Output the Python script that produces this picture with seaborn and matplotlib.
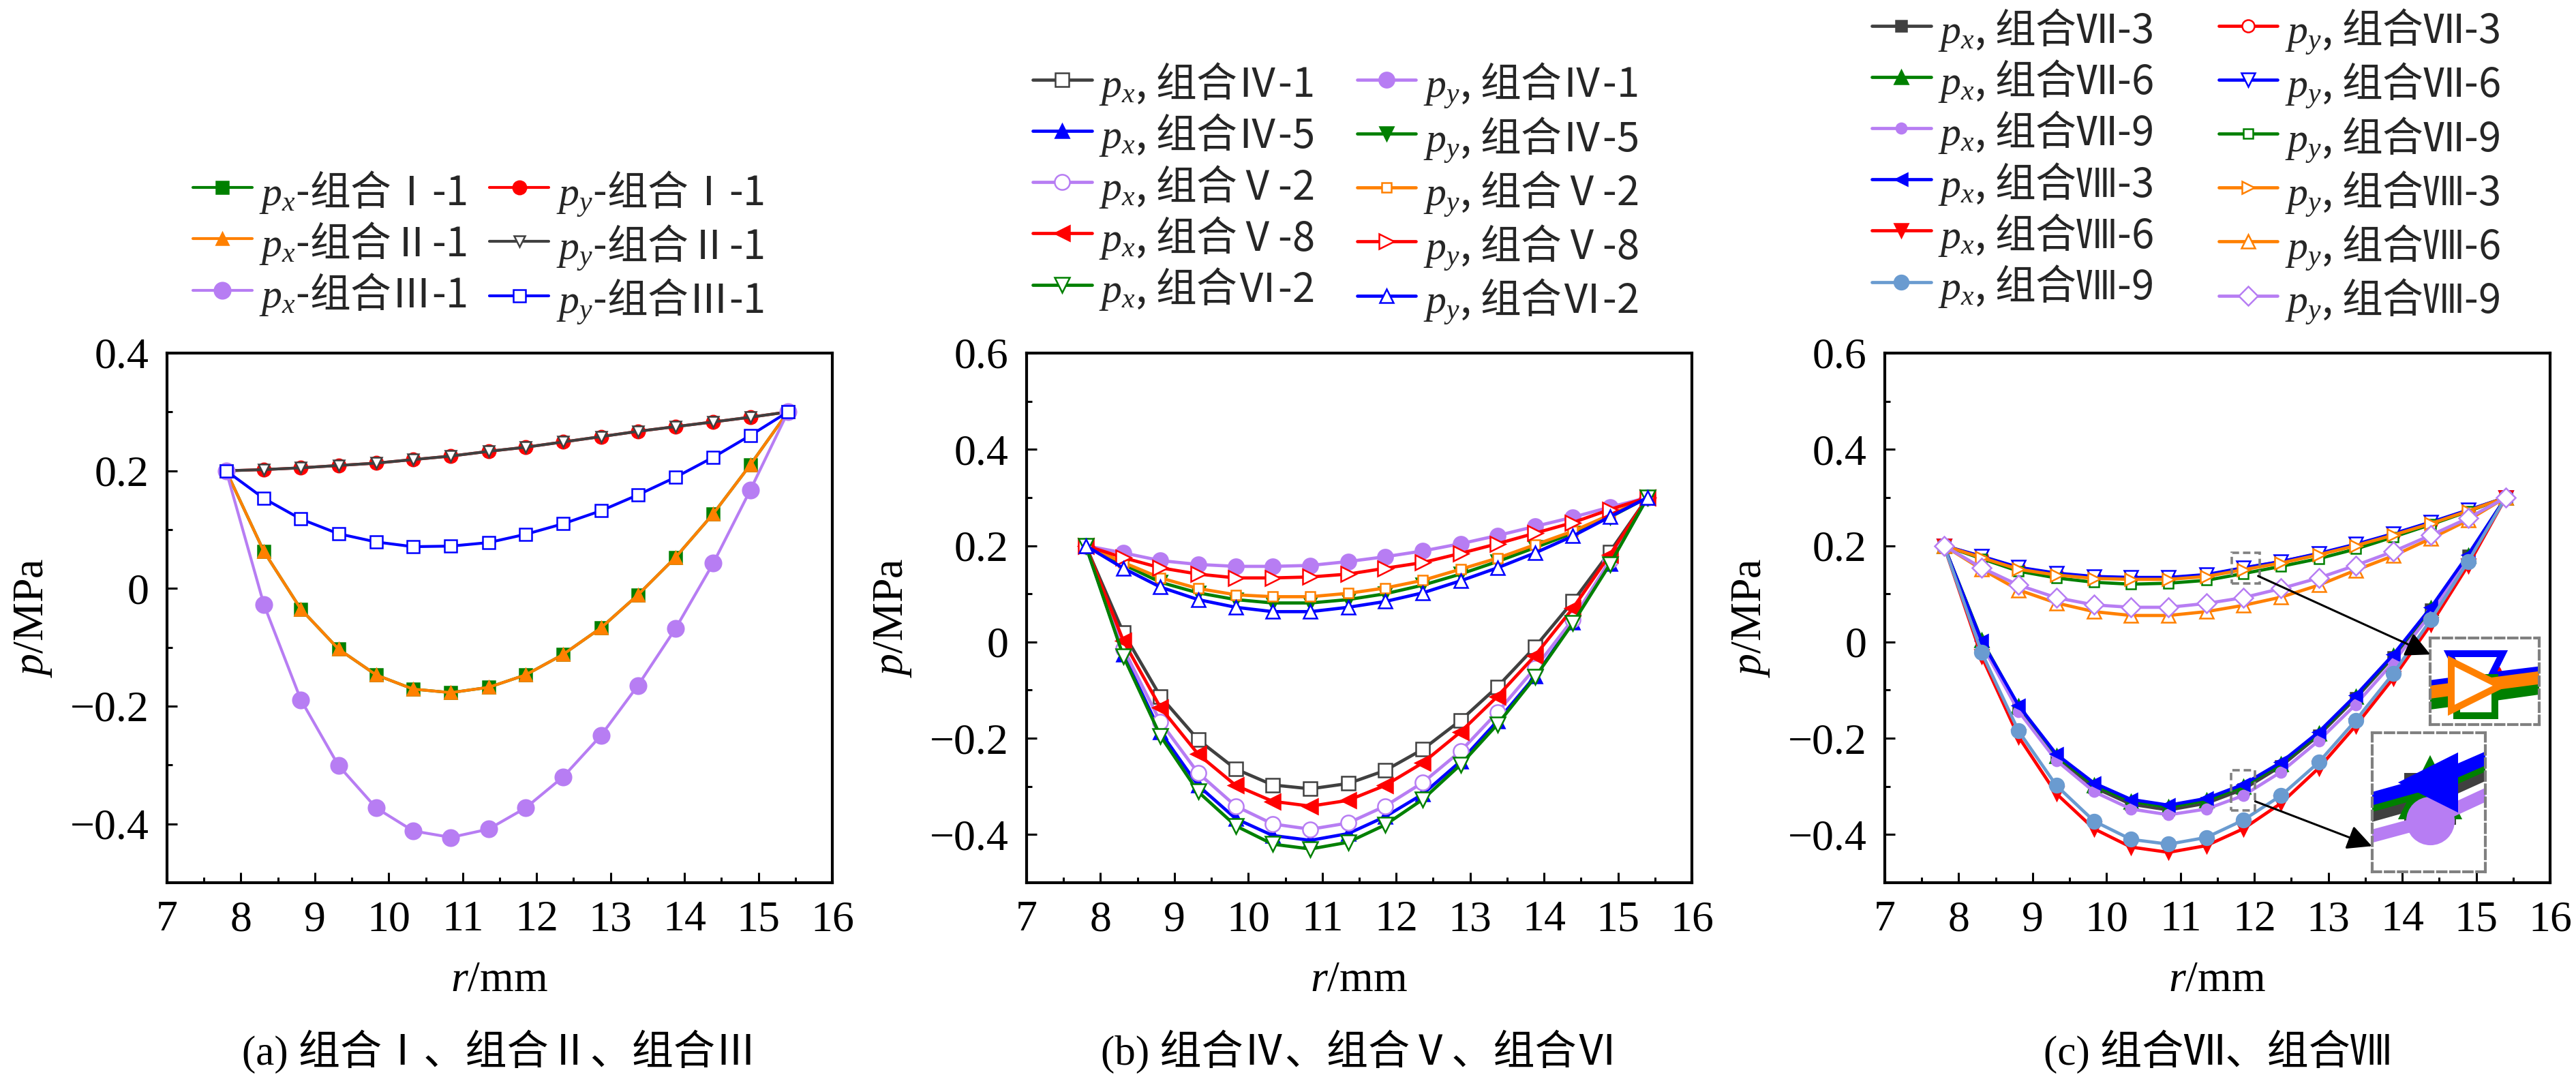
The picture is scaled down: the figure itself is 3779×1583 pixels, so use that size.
import matplotlib
matplotlib.use('Agg')
import matplotlib.pyplot as plt
import seaborn as sns
from matplotlib.patches import Rectangle
from matplotlib.font_manager import FontProperties

# ---------------- data ----------------
r = [7.8, 8.31, 8.81, 9.32, 9.83, 10.33, 10.84, 11.35, 11.85, 12.36, 12.87, 13.37, 13.88, 14.39, 14.89, 15.4]

# panel (a)
a_px_I1 = [0.200, 0.063, -0.035, -0.103, -0.147, -0.171, -0.177, -0.168, -0.147, -0.112, -0.067, -0.011, 0.053, 0.127, 0.210, 0.300]
a_py_I1 = [0.200, 0.202, 0.205, 0.209, 0.213, 0.219, 0.225, 0.233, 0.240, 0.249, 0.258, 0.267, 0.275, 0.283, 0.291, 0.300]
a_px_II1 = [0.200, 0.063, -0.035, -0.103, -0.147, -0.171, -0.177, -0.168, -0.147, -0.112, -0.067, -0.011, 0.053, 0.127, 0.210, 0.300]
a_py_II1 = [0.200, 0.202, 0.205, 0.209, 0.213, 0.219, 0.225, 0.233, 0.240, 0.249, 0.258, 0.267, 0.275, 0.283, 0.291, 0.300]
a_px_III1 = [0.200, -0.027, -0.189, -0.301, -0.373, -0.412, -0.423, -0.409, -0.373, -0.320, -0.250, -0.165, -0.068, 0.043, 0.167, 0.300]
a_py_III1 = [0.200, 0.153, 0.118, 0.093, 0.079, 0.071, 0.072, 0.078, 0.092, 0.110, 0.132, 0.159, 0.189, 0.223, 0.260, 0.300]

# panel (b)
b_px_IV1 = [0.200, 0.019, -0.113, -0.203, -0.264, -0.297, -0.305, -0.294, -0.267, -0.223, -0.163, -0.093, -0.010, 0.084, 0.187, 0.300]
b_py_IV1 = [0.200, 0.185, 0.169, 0.161, 0.157, 0.157, 0.159, 0.167, 0.177, 0.189, 0.204, 0.221, 0.240, 0.259, 0.280, 0.300]
b_px_IV5 = [0.200, -0.026, -0.187, -0.298, -0.367, -0.402, -0.412, -0.398, -0.363, -0.316, -0.248, -0.164, -0.071, 0.041, 0.163, 0.300]
b_py_IV5 = [0.200, 0.161, 0.124, 0.102, 0.088, 0.081, 0.081, 0.088, 0.100, 0.118, 0.141, 0.167, 0.196, 0.226, 0.259, 0.300]
b_px_V2 = [0.200, -0.014, -0.166, -0.272, -0.341, -0.378, -0.389, -0.376, -0.341, -0.292, -0.227, -0.146, -0.054, 0.047, 0.169, 0.300]
b_py_V2 = [0.200, 0.165, 0.133, 0.111, 0.098, 0.094, 0.094, 0.101, 0.112, 0.128, 0.151, 0.174, 0.202, 0.230, 0.264, 0.300]
b_px_V8 = [0.200, 0.002, -0.136, -0.233, -0.298, -0.331, -0.341, -0.329, -0.298, -0.251, -0.187, -0.113, -0.028, 0.070, 0.181, 0.300]
b_py_V8 = [0.200, 0.175, 0.154, 0.141, 0.133, 0.133, 0.135, 0.141, 0.153, 0.165, 0.184, 0.204, 0.226, 0.248, 0.275, 0.300]
b_px_VI2 = [0.200, -0.030, -0.195, -0.311, -0.382, -0.420, -0.430, -0.416, -0.380, -0.327, -0.255, -0.171, -0.073, 0.039, 0.161, 0.300]
b_py_VI2 = [0.200, 0.153, 0.114, 0.088, 0.072, 0.063, 0.063, 0.072, 0.084, 0.102, 0.127, 0.154, 0.185, 0.220, 0.260, 0.300]

# panel (c)
c_px_VII3 = [0.200, 0.000, -0.137, -0.240, -0.302, -0.337, -0.349, -0.335, -0.306, -0.258, -0.194, -0.117, -0.031, 0.068, 0.179, 0.300]
c_py_VII3 = [0.200, 0.177, 0.154, 0.142, 0.135, 0.133, 0.133, 0.139, 0.153, 0.167, 0.183, 0.202, 0.224, 0.248, 0.273, 0.300]
c_px_VII6 = [0.200, 0.004, -0.134, -0.236, -0.297, -0.331, -0.343, -0.329, -0.300, -0.253, -0.190, -0.113, -0.028, 0.070, 0.180, 0.300]
c_py_VII6 = [0.200, 0.178, 0.155, 0.143, 0.136, 0.134, 0.134, 0.140, 0.154, 0.167, 0.184, 0.203, 0.225, 0.249, 0.274, 0.300]
c_px_VII9 = [0.200, -0.005, -0.144, -0.246, -0.311, -0.347, -0.359, -0.347, -0.319, -0.270, -0.205, -0.130, -0.042, 0.059, 0.173, 0.300]
c_py_VII9 = [0.200, 0.173, 0.147, 0.133, 0.124, 0.120, 0.122, 0.128, 0.142, 0.157, 0.173, 0.193, 0.218, 0.244, 0.271, 0.300]
c_px_VIII3 = [0.200, 0.002, -0.132, -0.233, -0.293, -0.327, -0.339, -0.325, -0.296, -0.250, -0.187, -0.111, -0.026, 0.072, 0.181, 0.300]
c_py_VIII3 = [0.200, 0.175, 0.151, 0.139, 0.132, 0.130, 0.130, 0.136, 0.150, 0.164, 0.181, 0.200, 0.222, 0.246, 0.272, 0.300]
c_px_VIII6 = [0.200, -0.030, -0.197, -0.315, -0.388, -0.426, -0.437, -0.423, -0.388, -0.335, -0.262, -0.174, -0.075, 0.037, 0.159, 0.300]
c_py_VIII6 = [0.200, 0.151, 0.108, 0.081, 0.063, 0.055, 0.055, 0.063, 0.076, 0.093, 0.118, 0.149, 0.179, 0.215, 0.253, 0.300]
c_px_VIII9 = [0.200, -0.022, -0.185, -0.298, -0.372, -0.410, -0.420, -0.406, -0.370, -0.319, -0.250, -0.163, -0.065, 0.047, 0.167, 0.300]
c_py_VIII9 = [0.200, 0.154, 0.118, 0.092, 0.077, 0.072, 0.072, 0.080, 0.092, 0.111, 0.133, 0.159, 0.188, 0.222, 0.257, 0.300]

x_ticks = [7, 8, 9, 10, 11, 12, 13, 14, 15, 16]
x_minor = [7.5, 8.5, 9.5, 10.5, 11.5, 12.5, 13.5, 14.5, 15.5]
a_yticks = [-0.4, -0.2, 0, 0.2, 0.4]
a_ylabels = ['\u22120.4', '\u22120.2', '0', '0.2', '0.4']
a_yminor = [-0.3, -0.1, 0.1, 0.3]
bc_yticks = [-0.4, -0.2, 0, 0.2, 0.4, 0.6]
bc_ylabels = ['\u22120.4', '\u22120.2', '0', '0.2', '0.4', '0.6']
bc_yminor = [-0.3, -0.1, 0.1, 0.3, 0.5]

captions = ['(a) 组合Ⅰ、组合Ⅱ、组合Ⅲ', '(b) 组合Ⅳ、组合Ⅴ、组合Ⅵ', '(c) 组合Ⅶ、组合Ⅷ']

# ---------------- styles ----------------
GREEN = '#008000'; RED = '#FF0000'; ORANGE = '#FF8000'; GRAY = '#404040'
LAV = '#B77DF3'; BLUE = '#0000FF'; STEEL = '#6A9BD0'

# (label, data, color, marker, facecolor, markersize)
series_a = [
    ('$p_x$-组合Ⅰ-1', a_px_I1, GREEN, 's', GREEN, 13),
    ('$p_y$-组合Ⅰ-1', a_py_I1, RED, 'o', RED, 14),
    ('$p_x$-组合Ⅱ-1', a_px_II1, ORANGE, '^', ORANGE, 13),
    ('$p_y$-组合Ⅱ-1', a_py_II1, GRAY, 'v', 'white', 11),
    ('$p_x$-组合Ⅲ-1', a_px_III1, LAV, 'o', LAV, 17),
    ('$p_y$-组合Ⅲ-1', a_py_III1, BLUE, 's', 'white', 13),
]
series_b = [
    ('$p_x$, 组合Ⅳ-1', b_px_IV1, GRAY, 's', 'white', 15),
    ('$p_y$, 组合Ⅳ-1', b_py_IV1, LAV, 'o', LAV, 16),
    ('$p_x$, 组合Ⅳ-5', b_px_IV5, BLUE, '^', BLUE, 15),
    ('$p_y$, 组合Ⅳ-5', b_py_IV5, GREEN, 'v', GREEN, 14),
    ('$p_x$, 组合Ⅴ-2', b_px_V2, LAV, 'o', 'white', 16),
    ('$p_y$, 组合Ⅴ-2', b_py_V2, ORANGE, 's', 'white', 10),
    ('$p_x$, 组合Ⅴ-8', b_px_V8, RED, '<', RED, 16),
    ('$p_y$, 组合Ⅴ-8', b_py_V8, RED, '>', 'white', 16),
    ('$p_x$, 组合Ⅵ-2', b_px_VI2, GREEN, 'v', 'white', 16),
    ('$p_y$, 组合Ⅵ-2', b_py_VI2, BLUE, '^', 'white', 14),
]
series_c = [
    ('$p_x$, 组合Ⅶ-3', c_px_VII3, GRAY, 's', GRAY, 12),
    ('$p_y$, 组合Ⅶ-3', c_py_VII3, RED, 'o', 'white', 13),
    ('$p_x$, 组合Ⅶ-6', c_px_VII6, GREEN, '^', GREEN, 14),
    ('$p_y$, 组合Ⅶ-6', c_py_VII6, BLUE, 'v', 'white', 14),
    ('$p_x$, 组合Ⅶ-9', c_px_VII9, LAV, 'o', LAV, 11),
    ('$p_y$, 组合Ⅶ-9', c_py_VII9, GREEN, 's', 'white', 10),
    ('$p_x$, 组合Ⅷ-3', c_px_VIII3, BLUE, '<', BLUE, 13),
    ('$p_y$, 组合Ⅷ-3', c_py_VIII3, ORANGE, '>', 'white', 13),
    ('$p_x$, 组合Ⅷ-6', c_px_VIII6, RED, 'v', RED, 14),
    ('$p_y$, 组合Ⅷ-6', c_py_VIII6, ORANGE, '^', 'white', 15),
    ('$p_x$, 组合Ⅷ-9', c_px_VIII9, STEEL, 'o', STEEL, 15),
    ('$p_y$, 组合Ⅷ-9', c_py_VIII9, LAV, 'D', 'white', 14),
]

# ---------------- theme ----------------
sns.set_theme(style='ticks')
plt.rcParams['font.family'] = ['Liberation Serif', 'Noto Sans CJK SC']
plt.rcParams['mathtext.fontset'] = 'custom'
plt.rcParams['mathtext.rm'] = 'Liberation Serif'
plt.rcParams['mathtext.it'] = 'Liberation Serif:italic'
plt.rcParams['axes.unicode_minus'] = True

TICK_FS = 46
LAB_FS = 46
LEG_FS = 43
CAP_FS = 44

fig = plt.figure(figsize=(37.8, 15.83), dpi=100)
W, H = 3780.0, 1583.0
ax_left_px = [245, 1506, 2765]
ax_w_px = 976
ax_top_px, ax_bot_px = 518, 1295


def draw_series(ax, series, lw, scale=1.0):
    handles = []
    for lab, vals, col, mk, fc, ms in series:
        sns.lineplot(x=r, y=vals, ax=ax, color=col, marker=mk, markersize=ms * scale,
                     markerfacecolor=fc, markeredgecolor=col, markeredgewidth=1.8 * scale,
                     linewidth=lw * scale, label=lab, sort=False, estimator=None)
        handles.append(ax.lines[-1])
    return handles


legend_cfg = [
    dict(x=283, colsp=0.55),
    dict(x=1515, colsp=1.05),
    dict(x=2746, colsp=1.6),
]

axes = []
for i, (series, lw) in enumerate([(series_a, 3.0), (series_b, 3.4), (series_c, 3.4)]):
    ax = fig.add_axes([ax_left_px[i] / W, 1 - ax_bot_px / H, ax_w_px / W, (ax_bot_px - ax_top_px) / H])
    axes.append(ax)
    handles = draw_series(ax, series, lw)
    ax.set_xlim(7, 16)
    if i == 0:
        ax.set_ylim(-0.5, 0.4)
        ax.set_yticks(a_yticks, a_ylabels)
        ax.set_yticks(a_yminor, minor=True)
    else:
        ax.set_ylim(-0.5, 0.6)
        ax.set_yticks(bc_yticks, bc_ylabels)
        ax.set_yticks(bc_yminor, minor=True)
    ax.set_xticks(x_ticks, [str(t) for t in x_ticks])
    ax.set_xticks(x_minor, minor=True)
    ax.tick_params(which='both', direction='in', top=False, right=False, width=2.2, color='black',
                   labelsize=TICK_FS, pad=19, labelcolor='black')
    ax.tick_params(which='major', length=11)
    ax.tick_params(which='minor', length=6)
    for sp in ax.spines.values():
        sp.set_linewidth(3.0)
        sp.set_color('black')
        sp.set_visible(True)
    ax.set_facecolor('white')
    ax.set_xlabel('$r$/mm', fontsize=LAB_FS, color='black')
    ax.set_ylabel('$p$/MPa', fontsize=LAB_FS, color='black')
    ax.xaxis.set_label_coords(0.5, -0.148)
    ax.yaxis.set_label_coords(-0.17, 0.5)
    # legend: column-major ordering (px in col 1, py in col 2)
    order = list(range(0, len(handles), 2)) + list(range(1, len(handles), 2))
    hs = [handles[k] for k in order]
    ls = [series[k][0] for k in order]
    cfg = legend_cfg[i]
    leg = ax.legend(hs, ls, ncol=2, loc='lower left',
                    bbox_to_anchor=(cfg['x'] / W, 1 - 478 / H), bbox_transform=fig.transFigure,
                    frameon=False, borderpad=0, borderaxespad=0, handlelength=1.45,
                    handletextpad=0.18, columnspacing=cfg['colsp'], labelspacing=0.12,
                    handleheight=1.2,
                    prop=FontProperties(family='Noto Sans CJK SC', size=LEG_FS))
    fig.text((ax_left_px[i] + ax_w_px / 2) / W, 1 - 1543 / H, captions[i], ha='center', va='center',
             fontsize=CAP_FS, color='black')

# ---------------- magnified insets in panel (c) ----------------
axc = axes[2]
DASH = (0, (3.0, 1.6))
box_kw = dict(fill=False, ls=DASH, ec='#808080', lw=2.6, zorder=6)
small_up = (11.69, 0.122, 0.38, 0.063)
small_lo = (11.68, -0.350, 0.33, 0.084)
axc.add_patch(Rectangle(small_up[:2], small_up[2], small_up[3], **box_kw))
axc.add_patch(Rectangle(small_lo[:2], small_lo[2], small_lo[3], **box_kw))

ins_up = axc.inset_axes([14.38, -0.171, 1.47, 0.179], transform=axc.transData, zorder=7)
ins_lo = axc.inset_axes([13.59, -0.477, 1.53, 0.288], transform=axc.transData, zorder=7)
up_series = [series_c[k] for k in (1, 3, 5, 7)]
lo_series = [series_c[k] for k in (0, 2, 4, 6)]
draw_series(ins_up, up_series, 3.4, scale=4.0)
draw_series(ins_lo, lo_series, 3.4, scale=4.0)
for ins, sb in ((ins_up, small_up), (ins_lo, small_lo)):
    ins.set_xlim(sb[0], sb[0] + sb[2])
    ins.set_ylim(sb[1], sb[1] + sb[3])
    ins.set_xticks([]); ins.set_yticks([])
    ins.set_xlabel(''); ins.set_ylabel('')
    if ins.get_legend() is not None:
        ins.get_legend().remove()
    ins.set_facecolor('white')
    for sp in ins.spines.values():
        sp.set_visible(True)
        sp.set_linestyle(DASH)
        sp.set_edgecolor('#808080')
        sp.set_linewidth(3.0)

arrow_kw = dict(arrowstyle='-|>', color='black', lw=2.2, mutation_scale=55, shrinkA=0, shrinkB=0)
axc.annotate('', xy=(14.38, -0.026), xytext=(12.05, 0.137), xycoords='data', arrowprops=arrow_kw, zorder=8)
axc.annotate('', xy=(13.59, -0.424), xytext=(12.01, -0.331), xycoords='data', arrowprops=arrow_kw, zorder=8)

fig.savefig('out.png', dpi=100, facecolor='white')
